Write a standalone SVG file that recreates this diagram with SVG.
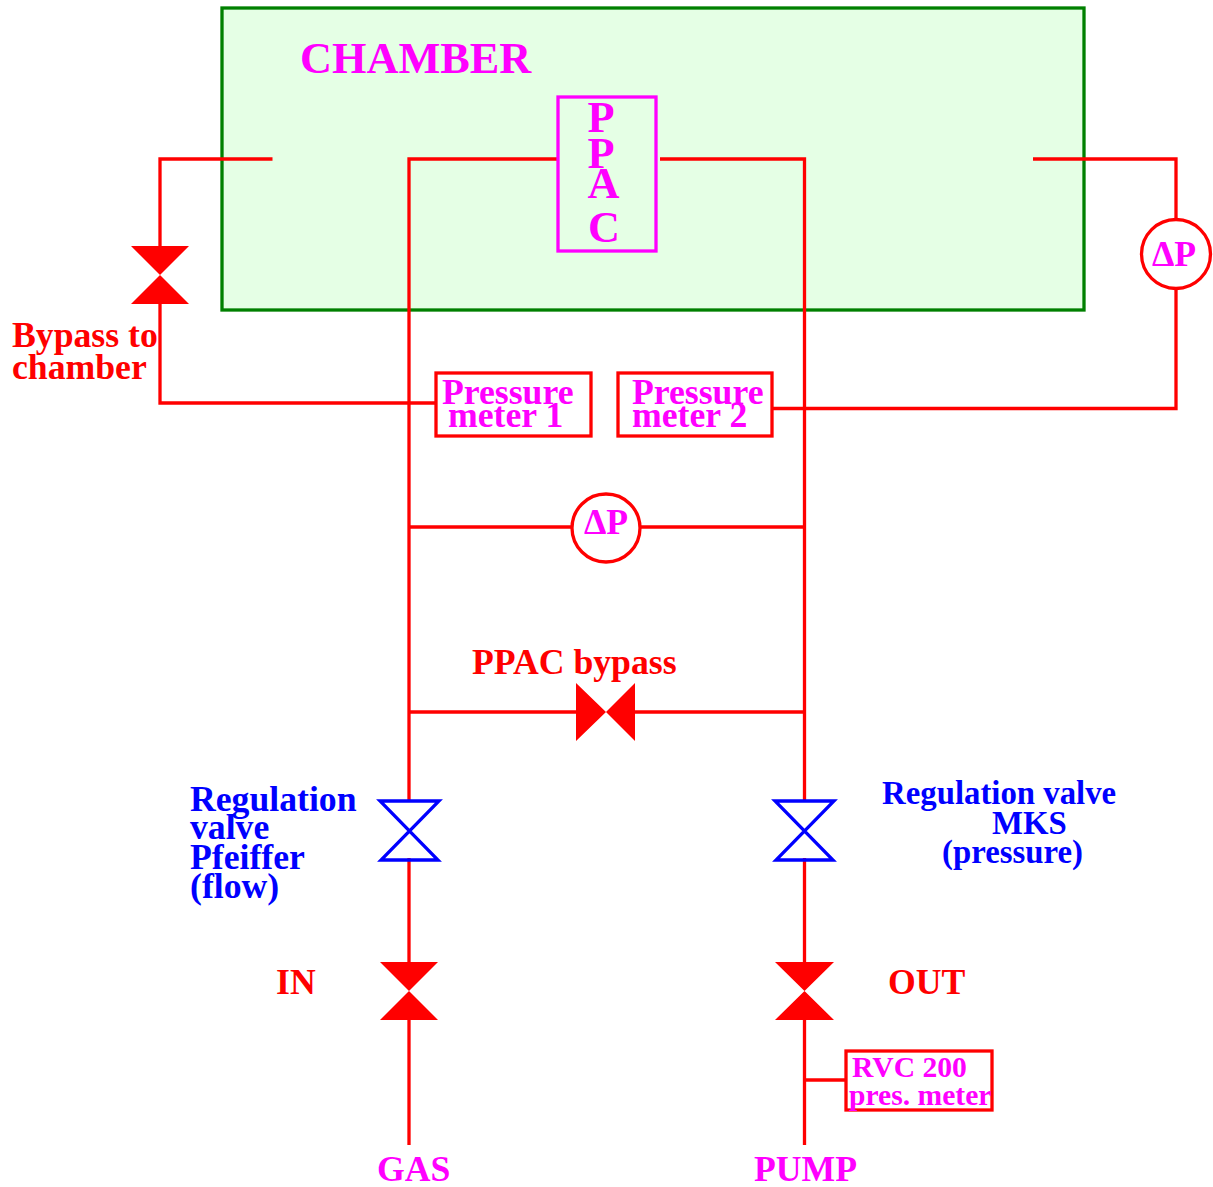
<svg xmlns="http://www.w3.org/2000/svg" width="1213" height="1187" viewBox="0 0 1213 1187">
<style>
text{font-family:"Liberation Serif","Times New Roman",serif;font-weight:bold;font-size:35.7px}
.m{fill:#ff00ff}.r{fill:#ff0000}.b{fill:#0000ff}
.pipe{fill:none;stroke:#ff0000;stroke-width:3.300}
.box{fill:none;stroke:#ff0000;stroke-width:3.300}
.bv{fill:none;stroke:#0000ff;stroke-width:3.300}
.rv{fill:#ff0000;stroke:none}
.s{font-size:29.6px}
.n{font-size:32.8px}
.l{font-size:44.3px}
</style>
<g id="chamber"><rect x="222" y="8" width="862" height="302" fill="#e5ffe5" stroke="#008000" stroke-width="3.300"/>
<text class="m l" x="300" y="73">CHAMBER</text></g>
<g id="connectors">
<path class="pipe" d="M272.500 159H160V246M160 304V403H436"/>
<path class="pipe" d="M557 159H409V801M409 858V962M409 1020V1145"/>
<path class="pipe" d="M660 159H804.500V801M804.500 858V962M804.500 1020V1145"/>
<path class="pipe" d="M772 408.500H1176V289M1176 220V159H1033"/>
<path class="pipe" d="M409 527H572M640 527H804.500"/>
<path class="pipe" d="M409 712H577M635 712H804.500"/>
<path class="pipe" d="M804.500 1080H846"/>
</g>
<g id="ppac"><rect x="558" y="97" width="98" height="154" fill="none" stroke="#ff00ff" stroke-width="3.300"/>
<text class="m l" x="587.500" y="132">P</text>
<text class="m l" x="587.500" y="168">P</text>
<text class="m l" x="587.500" y="198">A</text>
<text class="m l" x="588" y="242">C</text></g>
<g id="bypass-valve"><path class="rv" d="M131 246H189L160 275ZM131 304H189L160 275Z"/>
<text class="r" x="12" y="347">Bypass to</text><text class="r" x="12" y="379">chamber</text></g>
<g id="meter1"><rect class="box" x="436" y="373" width="155" height="63"/>
<text class="m" x="442" y="404">Pressure</text><text class="m" x="448" y="427">meter 1</text></g>
<g id="meter2"><rect class="box" x="618" y="373" width="154" height="63"/>
<text class="m" x="632" y="404">Pressure</text><text class="m" x="632" y="427">meter 2</text></g>
<g id="dp-right"><circle class="box" cx="1176" cy="254" r="34.500"/><text class="m" x="1152" y="266">ΔP</text></g>
<g id="dp-center"><circle class="box" cx="606" cy="528" r="34"/><text class="m" x="584" y="534">ΔP</text></g>
<g id="ppac-bypass"><path class="rv" d="M576 683V741L606 712ZM635 683V741L606 712Z"/>
<text class="r" x="472" y="674">PPAC bypass</text></g>
<g id="reg-left"><path class="bv" d="M380 801H439L381 860H438Z"/>
<text class="b" x="190" y="811">Regulation</text><text class="b" x="190" y="839">valve</text><text class="b" x="190" y="869">Pfeiffer</text><text class="b" x="190" y="898">(flow)</text></g>
<g id="reg-right"><path class="bv" d="M775 801H834L776 860H833Z"/>
<text class="b n" x="882" y="804">Regulation valve</text><text class="b n" x="992" y="834">MKS</text><text class="b n" x="942" y="863">(pressure)</text></g>
<g id="in-valve"><path class="rv" d="M380 962H438L409 991ZM380 1020H438L409 991Z"/><text class="r" x="276" y="994">IN</text></g>
<g id="out-valve"><path class="rv" d="M775 962H834L804.500 991ZM775 1020H834L804.500 991Z"/><text class="r" x="888" y="994">OUT</text></g>
<g id="rvc"><rect class="box" x="846" y="1051" width="146" height="59"/>
<text class="m s" x="852" y="1077">RVC 200</text><text class="m s" x="849" y="1105">pres. meter</text></g>
<g id="gas"><text class="m" x="377" y="1181">GAS</text></g>
<g id="pump"><text class="m" x="754" y="1181">PUMP</text></g>
</svg>
